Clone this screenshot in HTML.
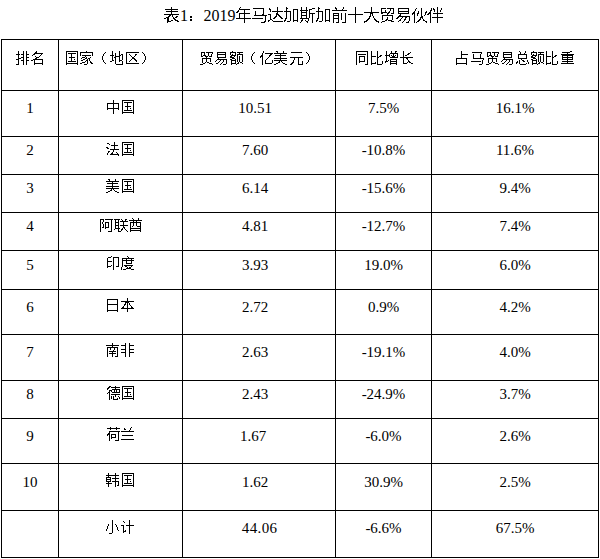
<!DOCTYPE html>
<html lang="zh-CN">
<head>
<meta charset="utf-8">
<title>表1：2019年马达加斯加前十大贸易伙伴</title>
<style>
html,body{margin:0;padding:0;background:#fff;}
body{width:600px;height:559px;position:relative;overflow:hidden;font-family:"Liberation Serif",serif;color:#000;}
.hl,.vl{position:absolute;background:#000;}
.hl{height:1px;left:1px;width:598px;}
.vl{width:1px;top:39px;height:519px;}
.c,.n{position:absolute;white-space:nowrap;font-size:15px;line-height:18px;height:18px;}
.n{text-align:center;}
.t{font-size:16px;line-height:20px;height:20px;}
.g{position:absolute;left:0;top:0;overflow:visible;shape-rendering:crispEdges;fill:#000;}
.s{color:transparent;}
</style>
</head>
<body>
<svg width="0" height="0" style="position:absolute"><defs>
<path id="g16_8868" d="M8 -14h1v1h-1zM8 -13h1v1h-1zM2 -12h13v1h-13zM8 -11h1v1h-1zM3 -10h12v1h-12zM8 -9h1v1h-1zM8 -8h1v1h-1zM1 -7h15v1h-15zM6 -6h2v1h-2zM9 -6h1v1h-1zM5 -5h2v1h-2zM9 -5h1v1h-1zM13 -5h2v1h-2zM3 -4h3v1h-3zM10 -4h1v1h-1zM12 -4h2v1h-2zM1 -3h2v1h-2zM4 -3h2v1h-2zM10 -3h2v1h-2zM4 -2h2v1h-2zM11 -2h2v1h-2zM4 -1h2v1h-2zM8 -1h2v1h-2zM12 -1h3v1h-3zM4 0h4v1h-4zM14 0h2v1h-2zM4 1h1v1h-1z"/>
<path id="g16_ff1a" d="M3 -5h2v1h-2zM3 -4h2v1h-2zM3 -2h2v1h-2zM3 -1h2v1h-2z"/>
<path id="g16_5e74" d="M5 -14h1v1h-1zM4 -13h1v1h-1zM4 -12h11v1h-11zM3 -11h1v1h-1zM9 -11h1v1h-1zM2 -10h2v1h-2zM9 -10h1v1h-1zM1 -9h2v1h-2zM9 -9h1v1h-1zM4 -8h11v1h-11zM4 -7h1v1h-1zM9 -7h1v1h-1zM4 -6h1v1h-1zM9 -6h1v1h-1zM4 -5h1v1h-1zM9 -5h1v1h-1zM4 -4h1v1h-1zM9 -4h1v1h-1zM1 -3h15v1h-15zM9 -2h1v1h-1zM9 -1h1v1h-1zM9 0h1v1h-1zM9 1h1v1h-1z"/>
<path id="g16_9a6c" d="M2 -13h11v1h-11zM12 -12h1v1h-1zM12 -11h1v1h-1zM4 -10h1v1h-1zM12 -10h1v1h-1zM4 -9h1v1h-1zM12 -9h1v1h-1zM4 -8h1v1h-1zM12 -8h1v1h-1zM4 -7h1v1h-1zM11 -7h2v1h-2zM3 -6h13v1h-13zM14 -5h1v1h-1zM14 -4h1v1h-1zM1 -3h11v1h-11zM14 -3h1v1h-1zM14 -2h1v1h-1zM14 -1h1v1h-1zM13 0h2v1h-2zM10 1h4v1h-4z"/>
<path id="g16_8fbe" d="M10 -14h1v1h-1zM2 -13h1v1h-1zM10 -13h1v1h-1zM2 -12h2v1h-2zM10 -12h1v1h-1zM3 -11h1v1h-1zM10 -11h1v1h-1zM3 -10h1v1h-1zM5 -10h11v1h-11zM10 -9h1v1h-1zM9 -8h2v1h-2zM1 -7h3v1h-3zM9 -7h3v1h-3zM3 -6h1v1h-1zM9 -6h1v1h-1zM11 -6h2v1h-2zM3 -5h1v1h-1zM8 -5h2v1h-2zM12 -5h2v1h-2zM3 -4h1v1h-1zM7 -4h2v1h-2zM13 -4h2v1h-2zM3 -3h1v1h-1zM6 -3h2v1h-2zM14 -3h2v1h-2zM3 -2h2v1h-2zM1 -1h2v1h-2zM5 -1h1v1h-1zM1 0h1v1h-1zM6 0h10v1h-10z"/>
<path id="g16_52a0" d="M3 -14h1v1h-1zM3 -13h2v1h-2zM3 -12h1v1h-1zM10 -12h5v1h-5zM3 -11h1v1h-1zM10 -11h1v1h-1zM14 -11h1v1h-1zM1 -10h7v1h-7zM10 -10h1v1h-1zM14 -10h1v1h-1zM3 -9h1v1h-1zM7 -9h1v1h-1zM10 -9h1v1h-1zM14 -9h1v1h-1zM3 -8h1v1h-1zM7 -8h1v1h-1zM10 -8h1v1h-1zM14 -8h1v1h-1zM3 -7h1v1h-1zM7 -7h1v1h-1zM10 -7h1v1h-1zM14 -7h1v1h-1zM3 -6h1v1h-1zM7 -6h1v1h-1zM10 -6h1v1h-1zM14 -6h1v1h-1zM3 -5h1v1h-1zM7 -5h1v1h-1zM10 -5h1v1h-1zM14 -5h1v1h-1zM3 -4h1v1h-1zM7 -4h1v1h-1zM10 -4h1v1h-1zM14 -4h1v1h-1zM2 -3h2v1h-2zM7 -3h1v1h-1zM10 -3h1v1h-1zM14 -3h1v1h-1zM2 -2h1v1h-1zM7 -2h1v1h-1zM10 -2h1v1h-1zM14 -2h1v1h-1zM1 -1h2v1h-2zM7 -1h1v1h-1zM10 -1h5v1h-5zM1 0h1v1h-1zM4 0h3v1h-3zM10 0h1v1h-1zM14 0h1v1h-1z"/>
<path id="g16_65af" d="M2 -14h1v1h-1zM7 -14h1v1h-1zM2 -13h1v1h-1zM7 -13h1v1h-1zM13 -13h3v1h-3zM2 -12h1v1h-1zM7 -12h1v1h-1zM10 -12h3v1h-3zM1 -11h8v1h-8zM10 -11h1v1h-1zM2 -10h1v1h-1zM7 -10h1v1h-1zM10 -10h1v1h-1zM2 -9h6v1h-6zM10 -9h1v1h-1zM2 -8h1v1h-1zM7 -8h1v1h-1zM10 -8h6v1h-6zM2 -7h1v1h-1zM7 -7h1v1h-1zM10 -7h1v1h-1zM13 -7h1v1h-1zM2 -6h6v1h-6zM10 -6h1v1h-1zM13 -6h1v1h-1zM2 -5h1v1h-1zM7 -5h1v1h-1zM10 -5h1v1h-1zM13 -5h1v1h-1zM2 -4h1v1h-1zM7 -4h1v1h-1zM10 -4h1v1h-1zM13 -4h1v1h-1zM1 -3h9v1h-9zM13 -3h1v1h-1zM3 -2h1v1h-1zM9 -2h1v1h-1zM13 -2h1v1h-1zM2 -1h2v1h-2zM6 -1h1v1h-1zM9 -1h1v1h-1zM13 -1h1v1h-1zM2 0h1v1h-1zM7 0h2v1h-2zM13 0h1v1h-1zM1 1h1v1h-1zM8 1h1v1h-1zM13 1h1v1h-1z"/>
<path id="g16_524d" d="M4 -14h1v1h-1zM12 -14h1v1h-1zM4 -13h2v1h-2zM12 -13h1v1h-1zM5 -12h1v1h-1zM11 -12h1v1h-1zM1 -11h15v1h-15zM2 -8h6v1h-6zM10 -8h1v1h-1zM14 -8h1v1h-1zM2 -7h1v1h-1zM7 -7h1v1h-1zM10 -7h1v1h-1zM14 -7h1v1h-1zM2 -6h6v1h-6zM10 -6h1v1h-1zM14 -6h1v1h-1zM2 -5h1v1h-1zM7 -5h1v1h-1zM10 -5h1v1h-1zM14 -5h1v1h-1zM2 -4h1v1h-1zM7 -4h1v1h-1zM10 -4h1v1h-1zM14 -4h1v1h-1zM2 -3h6v1h-6zM10 -3h1v1h-1zM14 -3h1v1h-1zM2 -2h1v1h-1zM7 -2h1v1h-1zM10 -2h1v1h-1zM14 -2h1v1h-1zM2 -1h1v1h-1zM7 -1h1v1h-1zM14 -1h1v1h-1zM2 0h1v1h-1zM7 0h1v1h-1zM14 0h1v1h-1zM2 1h1v1h-1zM5 1h3v1h-3zM11 1h4v1h-4z"/>
<path id="g16_5341" d="M8 -14h1v1h-1zM8 -13h1v1h-1zM8 -12h1v1h-1zM8 -11h1v1h-1zM8 -10h1v1h-1zM8 -9h1v1h-1zM8 -8h1v1h-1zM1 -7h15v1h-15zM8 -6h1v1h-1zM8 -5h1v1h-1zM8 -4h1v1h-1zM8 -3h1v1h-1zM8 -2h1v1h-1zM8 -1h1v1h-1zM8 0h1v1h-1zM8 1h1v1h-1z"/>
<path id="g16_5927" d="M8 -14h1v1h-1zM8 -13h1v1h-1zM8 -12h1v1h-1zM8 -11h1v1h-1zM8 -10h1v1h-1zM1 -9h15v1h-15zM7 -8h3v1h-3zM7 -7h1v1h-1zM9 -7h1v1h-1zM7 -6h1v1h-1zM9 -6h1v1h-1zM6 -5h2v1h-2zM10 -5h1v1h-1zM6 -4h1v1h-1zM10 -4h1v1h-1zM5 -3h2v1h-2zM11 -3h1v1h-1zM4 -2h2v1h-2zM11 -2h2v1h-2zM3 -1h2v1h-2zM12 -1h2v1h-2zM1 0h3v1h-3zM13 0h3v1h-3zM1 1h1v1h-1zM15 1h1v1h-1z"/>
<path id="g16_8d38" d="M2 -13h5v1h-5zM8 -13h7v1h-7zM2 -12h1v1h-1zM11 -12h1v1h-1zM14 -12h1v1h-1zM2 -11h1v1h-1zM6 -11h1v1h-1zM11 -11h1v1h-1zM14 -11h1v1h-1zM2 -10h1v1h-1zM6 -10h1v1h-1zM10 -10h1v1h-1zM14 -10h1v1h-1zM2 -9h6v1h-6zM9 -9h2v1h-2zM14 -9h1v1h-1zM2 -8h2v1h-2zM8 -8h2v1h-2zM12 -8h3v1h-3zM8 -7h1v1h-1zM3 -6h11v1h-11zM3 -5h1v1h-1zM13 -5h1v1h-1zM3 -4h1v1h-1zM8 -4h1v1h-1zM13 -4h1v1h-1zM3 -3h1v1h-1zM8 -3h1v1h-1zM13 -3h1v1h-1zM3 -2h1v1h-1zM7 -2h2v1h-2zM13 -2h1v1h-1zM6 -1h2v1h-2zM9 -1h4v1h-4zM3 0h3v1h-3zM12 0h3v1h-3zM2 1h1v1h-1z"/>
<path id="g16_6613" d="M3 -13h11v1h-11zM3 -12h1v1h-1zM13 -12h1v1h-1zM3 -11h1v1h-1zM13 -11h1v1h-1zM3 -10h11v1h-11zM3 -9h1v1h-1zM13 -9h1v1h-1zM3 -8h11v1h-11zM5 -7h1v1h-1zM4 -6h2v1h-2zM3 -5h12v1h-12zM2 -4h2v1h-2zM7 -4h1v1h-1zM10 -4h2v1h-2zM14 -4h1v1h-1zM1 -3h2v1h-2zM6 -3h1v1h-1zM10 -3h1v1h-1zM14 -3h1v1h-1zM5 -2h1v1h-1zM9 -2h2v1h-2zM14 -2h1v1h-1zM4 -1h2v1h-2zM9 -1h1v1h-1zM14 -1h1v1h-1zM3 0h1v1h-1zM8 0h1v1h-1zM13 0h1v1h-1zM7 1h1v1h-1zM11 1h3v1h-3z"/>
<path id="g16_4f19" d="M5 -13h1v1h-1zM10 -13h1v1h-1zM4 -12h1v1h-1zM10 -12h1v1h-1zM4 -11h1v1h-1zM10 -11h1v1h-1zM3 -10h1v1h-1zM7 -10h1v1h-1zM10 -10h1v1h-1zM15 -10h1v1h-1zM2 -9h2v1h-2zM7 -9h1v1h-1zM10 -9h1v1h-1zM14 -9h2v1h-2zM1 -8h3v1h-3zM6 -8h2v1h-2zM10 -8h1v1h-1zM14 -8h1v1h-1zM1 -7h1v1h-1zM3 -7h1v1h-1zM6 -7h1v1h-1zM10 -7h1v1h-1zM14 -7h1v1h-1zM3 -6h1v1h-1zM6 -6h1v1h-1zM10 -6h1v1h-1zM13 -6h1v1h-1zM3 -5h1v1h-1zM10 -5h2v1h-2zM3 -4h1v1h-1zM9 -4h3v1h-3zM3 -3h1v1h-1zM9 -3h1v1h-1zM11 -3h1v1h-1zM3 -2h1v1h-1zM8 -2h2v1h-2zM12 -2h1v1h-1zM3 -1h1v1h-1zM7 -1h2v1h-2zM12 -1h2v1h-2zM3 0h1v1h-1zM6 0h2v1h-2zM14 0h2v1h-2zM3 1h1v1h-1zM5 1h1v1h-1zM15 1h1v1h-1z"/>
<path id="g16_4f34" d="M10 -14h1v1h-1zM4 -13h1v1h-1zM6 -13h1v1h-1zM10 -13h1v1h-1zM14 -13h1v1h-1zM4 -12h1v1h-1zM6 -12h2v1h-2zM10 -12h1v1h-1zM14 -12h1v1h-1zM3 -11h2v1h-2zM7 -11h1v1h-1zM10 -11h1v1h-1zM13 -11h1v1h-1zM3 -10h1v1h-1zM7 -10h1v1h-1zM10 -10h1v1h-1zM13 -10h1v1h-1zM2 -9h2v1h-2zM10 -9h1v1h-1zM1 -8h3v1h-3zM6 -8h10v1h-10zM0 -7h2v1h-2zM3 -7h1v1h-1zM10 -7h1v1h-1zM3 -6h1v1h-1zM10 -6h1v1h-1zM3 -5h1v1h-1zM10 -5h1v1h-1zM3 -4h1v1h-1zM5 -4h11v1h-11zM3 -3h1v1h-1zM10 -3h1v1h-1zM3 -2h1v1h-1zM10 -2h1v1h-1zM3 -1h1v1h-1zM10 -1h1v1h-1zM3 0h1v1h-1zM10 0h1v1h-1zM3 1h1v1h-1zM10 1h1v1h-1z"/>
<path id="g15_6392" d="M3 -12h1v1h-1zM8 -12h1v1h-1zM11 -12h1v1h-1zM3 -11h1v1h-1zM8 -11h1v1h-1zM11 -11h1v1h-1zM3 -10h1v1h-1zM8 -10h1v1h-1zM11 -10h1v1h-1zM1 -9h4v1h-4zM6 -9h3v1h-3zM11 -9h3v1h-3zM3 -8h1v1h-1zM8 -8h1v1h-1zM11 -8h1v1h-1zM3 -7h1v1h-1zM8 -7h1v1h-1zM11 -7h1v1h-1zM3 -6h1v1h-1zM6 -6h3v1h-3zM11 -6h3v1h-3zM3 -5h3v1h-3zM8 -5h1v1h-1zM11 -5h1v1h-1zM1 -4h3v1h-3zM8 -4h1v1h-1zM11 -4h1v1h-1zM3 -3h1v1h-1zM6 -3h3v1h-3zM11 -3h3v1h-3zM3 -2h1v1h-1zM8 -2h1v1h-1zM11 -2h1v1h-1zM3 -1h1v1h-1zM8 -1h1v1h-1zM11 -1h1v1h-1zM3 0h1v1h-1zM8 0h1v1h-1zM11 0h1v1h-1zM1 1h3v1h-3zM8 1h1v1h-1zM11 1h1v1h-1z"/>
<path id="g15_540d" d="M6 -12h1v1h-1zM5 -11h2v1h-2zM4 -10h9v1h-9zM3 -9h2v1h-2zM11 -9h1v1h-1zM2 -8h1v1h-1zM10 -8h1v1h-1zM5 -7h1v1h-1zM9 -7h1v1h-1zM6 -6h3v1h-3zM5 -5h2v1h-2zM3 -4h10v1h-10zM1 -3h2v1h-2zM4 -3h1v1h-1zM12 -3h1v1h-1zM4 -2h1v1h-1zM12 -2h1v1h-1zM4 -1h1v1h-1zM12 -1h1v1h-1zM4 0h9v1h-9zM4 1h1v1h-1zM12 1h1v1h-1z"/>
<path id="g15_56fd" d="M1 -12h12v1h-12zM1 -11h1v1h-1zM12 -11h1v1h-1zM1 -10h1v1h-1zM3 -10h8v1h-8zM12 -10h1v1h-1zM1 -9h1v1h-1zM6 -9h1v1h-1zM12 -9h1v1h-1zM1 -8h1v1h-1zM6 -8h1v1h-1zM12 -8h1v1h-1zM1 -7h1v1h-1zM6 -7h1v1h-1zM12 -7h1v1h-1zM1 -6h1v1h-1zM4 -6h6v1h-6zM12 -6h1v1h-1zM1 -5h1v1h-1zM6 -5h1v1h-1zM12 -5h1v1h-1zM1 -4h1v1h-1zM6 -4h1v1h-1zM9 -4h1v1h-1zM12 -4h1v1h-1zM1 -3h1v1h-1zM6 -3h1v1h-1zM12 -3h1v1h-1zM1 -2h1v1h-1zM3 -2h8v1h-8zM12 -2h1v1h-1zM1 -1h1v1h-1zM12 -1h1v1h-1zM1 0h12v1h-12zM1 1h1v1h-1zM12 1h1v1h-1z"/>
<path id="g15_5bb6" d="M6 -12h1v1h-1zM0 -11h13v1h-13zM0 -10h1v1h-1zM12 -10h1v1h-1zM0 -9h1v1h-1zM12 -9h1v1h-1zM0 -8h1v1h-1zM2 -8h9v1h-9zM12 -8h1v1h-1zM5 -7h1v1h-1zM2 -6h3v1h-3zM6 -6h1v1h-1zM10 -6h1v1h-1zM1 -5h1v1h-1zM5 -5h2v1h-2zM8 -5h2v1h-2zM3 -4h2v1h-2zM7 -4h1v1h-1zM9 -4h1v1h-1zM1 -3h2v1h-2zM6 -3h2v1h-2zM9 -3h1v1h-1zM5 -2h1v1h-1zM7 -2h1v1h-1zM10 -2h1v1h-1zM2 -1h3v1h-3zM7 -1h1v1h-1zM10 -1h2v1h-2zM0 0h2v1h-2zM7 0h1v1h-1zM11 0h2v1h-2zM4 1h3v1h-3z"/>
<path id="g15_ff08" d="M10 -11h1v1h-1zM9 -10h1v1h-1zM8 -9h1v1h-1zM8 -8h1v1h-1zM7 -7h1v1h-1zM7 -6h1v1h-1zM7 -5h1v1h-1zM7 -4h1v1h-1zM8 -3h1v1h-1zM8 -2h1v1h-1zM9 -1h1v1h-1zM10 0h1v1h-1z"/>
<path id="g15_5730" d="M2 -12h1v1h-1zM9 -12h1v1h-1zM2 -11h1v1h-1zM9 -11h1v1h-1zM2 -10h1v1h-1zM5 -10h1v1h-1zM9 -10h1v1h-1zM2 -9h1v1h-1zM5 -9h1v1h-1zM9 -9h1v1h-1zM11 -9h2v1h-2zM0 -8h4v1h-4zM5 -8h1v1h-1zM9 -8h2v1h-2zM12 -8h1v1h-1zM2 -7h1v1h-1zM5 -7h5v1h-5zM12 -7h1v1h-1zM2 -6h1v1h-1zM4 -6h2v1h-2zM9 -6h1v1h-1zM12 -6h1v1h-1zM2 -5h1v1h-1zM5 -5h1v1h-1zM9 -5h1v1h-1zM12 -5h1v1h-1zM2 -4h1v1h-1zM5 -4h1v1h-1zM9 -4h1v1h-1zM12 -4h1v1h-1zM2 -3h2v1h-2zM5 -3h1v1h-1zM9 -3h3v1h-3zM0 -2h2v1h-2zM5 -2h1v1h-1zM9 -2h1v1h-1zM12 -2h1v1h-1zM5 -1h1v1h-1zM12 -1h1v1h-1zM5 0h1v1h-1zM12 0h1v1h-1zM6 1h7v1h-7z"/>
<path id="g15_533a" d="M1 -11h13v1h-13zM1 -10h1v1h-1zM1 -9h1v1h-1zM4 -9h1v1h-1zM10 -9h2v1h-2zM1 -8h1v1h-1zM5 -8h1v1h-1zM10 -8h1v1h-1zM1 -7h1v1h-1zM6 -7h1v1h-1zM9 -7h1v1h-1zM1 -6h1v1h-1zM7 -6h2v1h-2zM1 -5h1v1h-1zM7 -5h3v1h-3zM1 -4h1v1h-1zM6 -4h1v1h-1zM9 -4h2v1h-2zM1 -3h1v1h-1zM5 -3h1v1h-1zM10 -3h2v1h-2zM1 -2h1v1h-1zM4 -2h1v1h-1zM11 -2h1v1h-1zM1 -1h1v1h-1zM1 0h13v1h-13z"/>
<path id="g15_ff09" d="M2 -11h1v1h-1zM3 -10h1v1h-1zM4 -9h1v1h-1zM4 -8h1v1h-1zM5 -7h1v1h-1zM5 -6h1v1h-1zM5 -5h1v1h-1zM5 -4h1v1h-1zM4 -3h1v1h-1zM4 -2h1v1h-1zM3 -1h1v1h-1zM2 0h1v1h-1z"/>
<path id="g15_8d38" d="M2 -11h4v1h-4zM7 -11h7v1h-7zM2 -10h1v1h-1zM5 -10h1v1h-1zM9 -10h1v1h-1zM13 -10h1v1h-1zM2 -9h1v1h-1zM5 -9h1v1h-1zM9 -9h1v1h-1zM12 -9h1v1h-1zM2 -8h1v1h-1zM4 -8h3v1h-3zM9 -8h1v1h-1zM12 -8h1v1h-1zM2 -7h2v1h-2zM6 -7h3v1h-3zM10 -7h3v1h-3zM7 -6h1v1h-1zM3 -5h9v1h-9zM3 -4h1v1h-1zM7 -4h1v1h-1zM11 -4h1v1h-1zM3 -3h1v1h-1zM7 -3h1v1h-1zM11 -3h1v1h-1zM3 -2h1v1h-1zM7 -2h1v1h-1zM11 -2h1v1h-1zM3 -1h1v1h-1zM6 -1h1v1h-1zM8 -1h2v1h-2zM4 0h2v1h-2zM10 0h3v1h-3zM1 1h3v1h-3zM13 1h1v1h-1z"/>
<path id="g15_6613" d="M3 -11h9v1h-9zM3 -10h1v1h-1zM11 -10h1v1h-1zM3 -9h9v1h-9zM3 -8h1v1h-1zM11 -8h1v1h-1zM3 -7h1v1h-1zM11 -7h1v1h-1zM3 -6h9v1h-9zM4 -5h1v1h-1zM3 -4h10v1h-10zM2 -3h1v1h-1zM6 -3h1v1h-1zM9 -3h1v1h-1zM12 -3h1v1h-1zM1 -2h1v1h-1zM5 -2h1v1h-1zM9 -2h1v1h-1zM12 -2h1v1h-1zM4 -1h1v1h-1zM8 -1h1v1h-1zM12 -1h1v1h-1zM2 0h2v1h-2zM7 0h1v1h-1zM12 0h1v1h-1zM6 1h1v1h-1zM9 1h3v1h-3z"/>
<path id="g15_989d" d="M3 -12h1v1h-1zM1 -11h6v1h-6zM8 -11h6v1h-6zM1 -10h1v1h-1zM6 -10h1v1h-1zM10 -10h1v1h-1zM1 -9h1v1h-1zM3 -9h1v1h-1zM6 -9h1v1h-1zM8 -9h6v1h-6zM2 -8h5v1h-5zM8 -8h1v1h-1zM13 -8h1v1h-1zM1 -7h2v1h-2zM5 -7h1v1h-1zM8 -7h1v1h-1zM10 -7h1v1h-1zM13 -7h1v1h-1zM1 -6h4v1h-4zM8 -6h1v1h-1zM10 -6h1v1h-1zM13 -6h1v1h-1zM3 -5h3v1h-3zM8 -5h1v1h-1zM10 -5h1v1h-1zM13 -5h1v1h-1zM1 -4h2v1h-2zM6 -4h1v1h-1zM8 -4h1v1h-1zM10 -4h1v1h-1zM13 -4h1v1h-1zM2 -3h5v1h-5zM8 -3h1v1h-1zM10 -3h1v1h-1zM13 -3h1v1h-1zM2 -2h1v1h-1zM6 -2h1v1h-1zM8 -2h1v1h-1zM10 -2h1v1h-1zM13 -2h1v1h-1zM2 -1h1v1h-1zM6 -1h1v1h-1zM9 -1h1v1h-1zM11 -1h2v1h-2zM2 0h5v1h-5zM8 0h2v1h-2zM13 0h1v1h-1zM2 1h1v1h-1zM7 1h1v1h-1z"/>
<path id="g15_4ebf" d="M4 -12h1v1h-1zM4 -11h1v1h-1zM3 -10h1v1h-1zM6 -10h8v1h-8zM3 -9h1v1h-1zM11 -9h2v1h-2zM2 -8h2v1h-2zM10 -8h2v1h-2zM1 -7h3v1h-3zM10 -7h1v1h-1zM1 -6h1v1h-1zM3 -6h1v1h-1zM9 -6h1v1h-1zM3 -5h1v1h-1zM8 -5h1v1h-1zM3 -4h1v1h-1zM7 -4h1v1h-1zM3 -3h1v1h-1zM6 -3h1v1h-1zM13 -3h1v1h-1zM3 -2h1v1h-1zM6 -2h1v1h-1zM13 -2h1v1h-1zM3 -1h1v1h-1zM6 -1h1v1h-1zM13 -1h1v1h-1zM3 0h1v1h-1zM6 0h7v1h-7zM3 1h1v1h-1z"/>
<path id="g15_7f8e" d="M2 -12h2v1h-2zM9 -12h1v1h-1zM3 -11h1v1h-1zM9 -11h1v1h-1zM0 -10h13v1h-13zM6 -9h1v1h-1zM1 -8h11v1h-11zM6 -7h1v1h-1zM6 -6h1v1h-1zM0 -5h13v1h-13zM6 -4h1v1h-1zM0 -3h13v1h-13zM5 -2h1v1h-1zM7 -2h1v1h-1zM4 -1h2v1h-2zM8 -1h1v1h-1zM2 0h2v1h-2zM9 0h2v1h-2zM0 1h2v1h-2zM11 1h2v1h-2z"/>
<path id="g15_5143" d="M2 -11h11v1h-11zM1 -6h13v1h-13zM5 -5h1v1h-1zM9 -5h1v1h-1zM5 -4h1v1h-1zM9 -4h1v1h-1zM4 -3h1v1h-1zM9 -3h1v1h-1zM4 -2h1v1h-1zM9 -2h1v1h-1zM13 -2h1v1h-1zM3 -1h2v1h-2zM9 -1h1v1h-1zM13 -1h1v1h-1zM2 0h2v1h-2zM9 0h1v1h-1zM13 0h1v1h-1zM1 1h2v1h-2zM9 1h5v1h-5z"/>
<path id="g15_540c" d="M1 -12h12v1h-12zM1 -11h1v1h-1zM12 -11h1v1h-1zM1 -10h1v1h-1zM12 -10h1v1h-1zM1 -9h1v1h-1zM3 -9h8v1h-8zM12 -9h1v1h-1zM1 -8h1v1h-1zM12 -8h1v1h-1zM1 -7h1v1h-1zM4 -7h6v1h-6zM12 -7h1v1h-1zM1 -6h1v1h-1zM4 -6h1v1h-1zM9 -6h1v1h-1zM12 -6h1v1h-1zM1 -5h1v1h-1zM4 -5h1v1h-1zM9 -5h1v1h-1zM12 -5h1v1h-1zM1 -4h1v1h-1zM4 -4h1v1h-1zM9 -4h1v1h-1zM12 -4h1v1h-1zM1 -3h1v1h-1zM4 -3h1v1h-1zM9 -3h1v1h-1zM12 -3h1v1h-1zM1 -2h1v1h-1zM4 -2h6v1h-6zM12 -2h1v1h-1zM1 -1h1v1h-1zM4 -1h1v1h-1zM12 -1h1v1h-1zM1 0h1v1h-1zM12 0h1v1h-1zM1 1h1v1h-1zM10 1h3v1h-3z"/>
<path id="g15_6bd4" d="M1 -12h1v1h-1zM7 -12h1v1h-1zM1 -11h1v1h-1zM7 -11h1v1h-1zM1 -10h1v1h-1zM7 -10h1v1h-1zM1 -9h1v1h-1zM7 -9h1v1h-1zM1 -8h1v1h-1zM7 -8h1v1h-1zM10 -8h2v1h-2zM1 -7h5v1h-5zM7 -7h1v1h-1zM9 -7h2v1h-2zM1 -6h1v1h-1zM7 -6h2v1h-2zM1 -5h1v1h-1zM7 -5h1v1h-1zM1 -4h1v1h-1zM7 -4h1v1h-1zM1 -3h1v1h-1zM7 -3h1v1h-1zM1 -2h1v1h-1zM7 -2h1v1h-1zM12 -2h1v1h-1zM1 -1h1v1h-1zM5 -1h1v1h-1zM7 -1h1v1h-1zM12 -1h1v1h-1zM1 0h5v1h-5zM7 0h1v1h-1zM12 0h1v1h-1zM1 1h1v1h-1zM7 1h5v1h-5z"/>
<path id="g15_589e" d="M1 -12h1v1h-1zM6 -12h1v1h-1zM10 -12h2v1h-2zM1 -11h1v1h-1zM6 -11h1v1h-1zM10 -11h1v1h-1zM1 -10h1v1h-1zM5 -10h8v1h-8zM1 -9h1v1h-1zM4 -9h1v1h-1zM8 -9h1v1h-1zM12 -9h1v1h-1zM0 -8h5v1h-5zM6 -8h1v1h-1zM8 -8h1v1h-1zM10 -8h1v1h-1zM12 -8h1v1h-1zM1 -7h1v1h-1zM4 -7h1v1h-1zM7 -7h3v1h-3zM12 -7h1v1h-1zM1 -6h1v1h-1zM5 -6h8v1h-8zM1 -5h1v1h-1zM1 -4h1v1h-1zM5 -4h7v1h-7zM1 -3h1v1h-1zM3 -3h1v1h-1zM5 -3h1v1h-1zM11 -3h1v1h-1zM0 -2h3v1h-3zM5 -2h7v1h-7zM0 -1h1v1h-1zM5 -1h1v1h-1zM11 -1h1v1h-1zM5 0h7v1h-7zM5 1h1v1h-1zM11 1h1v1h-1z"/>
<path id="g15_957f" d="M3 -12h1v1h-1zM3 -11h1v1h-1zM10 -11h1v1h-1zM3 -10h1v1h-1zM8 -10h2v1h-2zM3 -9h1v1h-1zM7 -9h2v1h-2zM3 -8h1v1h-1zM5 -8h2v1h-2zM3 -7h1v1h-1zM0 -6h13v1h-13zM3 -5h1v1h-1zM6 -5h2v1h-2zM3 -4h1v1h-1zM7 -4h1v1h-1zM3 -3h1v1h-1zM8 -3h1v1h-1zM3 -2h1v1h-1zM8 -2h2v1h-2zM3 -1h1v1h-1zM7 -1h1v1h-1zM9 -1h2v1h-2zM3 0h4v1h-4zM11 0h2v1h-2z"/>
<path id="g15_5360" d="M6 -12h1v1h-1zM6 -11h1v1h-1zM6 -10h1v1h-1zM6 -9h7v1h-7zM6 -8h1v1h-1zM6 -7h1v1h-1zM6 -6h1v1h-1zM1 -5h11v1h-11zM1 -4h1v1h-1zM11 -4h1v1h-1zM1 -3h1v1h-1zM11 -3h1v1h-1zM1 -2h1v1h-1zM11 -2h1v1h-1zM1 -1h1v1h-1zM11 -1h1v1h-1zM1 0h11v1h-11zM1 1h1v1h-1zM11 1h1v1h-1z"/>
<path id="g15_9a6c" d="M2 -11h10v1h-10zM11 -10h1v1h-1zM3 -9h1v1h-1zM10 -9h1v1h-1zM3 -8h1v1h-1zM10 -8h1v1h-1zM3 -7h1v1h-1zM10 -7h1v1h-1zM3 -6h1v1h-1zM10 -6h1v1h-1zM3 -5h11v1h-11zM13 -4h1v1h-1zM12 -3h1v1h-1zM1 -2h10v1h-10zM12 -2h1v1h-1zM12 -1h1v1h-1zM12 0h1v1h-1zM9 1h3v1h-3z"/>
<path id="g15_603b" d="M4 -12h1v1h-1zM10 -12h1v1h-1zM5 -11h1v1h-1zM10 -11h1v1h-1zM5 -10h1v1h-1zM9 -10h1v1h-1zM3 -9h9v1h-9zM3 -8h1v1h-1zM11 -8h1v1h-1zM3 -7h1v1h-1zM11 -7h1v1h-1zM3 -6h1v1h-1zM11 -6h1v1h-1zM3 -5h9v1h-9zM6 -4h1v1h-1zM4 -3h1v1h-1zM7 -3h2v1h-2zM12 -3h1v1h-1zM2 -2h1v1h-1zM4 -2h1v1h-1zM8 -2h2v1h-2zM12 -2h1v1h-1zM1 -1h2v1h-2zM4 -1h1v1h-1zM13 -1h1v1h-1zM1 0h1v1h-1zM4 0h1v1h-1zM11 0h1v1h-1zM13 0h1v1h-1zM5 1h6v1h-6z"/>
<path id="g15_91cd" d="M10 -12h2v1h-2zM2 -11h8v1h-8zM7 -10h1v1h-1zM1 -9h13v1h-13zM2 -8h11v1h-11zM2 -7h1v1h-1zM7 -7h1v1h-1zM12 -7h1v1h-1zM2 -6h11v1h-11zM2 -5h1v1h-1zM7 -5h1v1h-1zM12 -5h1v1h-1zM2 -4h11v1h-11zM7 -3h1v1h-1zM2 -2h11v1h-11zM7 -1h1v1h-1zM1 0h13v1h-13z"/>
<path id="g15_4e2d" d="M7 -12h1v1h-1zM7 -11h1v1h-1zM7 -10h1v1h-1zM1 -9h12v1h-12zM1 -8h1v1h-1zM7 -8h1v1h-1zM12 -8h1v1h-1zM1 -7h1v1h-1zM7 -7h1v1h-1zM12 -7h1v1h-1zM1 -6h1v1h-1zM7 -6h1v1h-1zM12 -6h1v1h-1zM1 -5h1v1h-1zM7 -5h1v1h-1zM12 -5h1v1h-1zM1 -4h12v1h-12zM1 -3h1v1h-1zM7 -3h1v1h-1zM12 -3h1v1h-1zM7 -2h1v1h-1zM7 -1h1v1h-1zM7 0h1v1h-1zM7 1h1v1h-1z"/>
<path id="g15_6cd5" d="M8 -12h1v1h-1zM1 -11h2v1h-2zM8 -11h1v1h-1zM3 -10h1v1h-1zM8 -10h1v1h-1zM5 -9h7v1h-7zM8 -8h1v1h-1zM0 -7h2v1h-2zM8 -7h1v1h-1zM1 -6h2v1h-2zM8 -6h1v1h-1zM4 -5h9v1h-9zM7 -4h1v1h-1zM2 -3h2v1h-2zM7 -3h1v1h-1zM2 -2h1v1h-1zM6 -2h1v1h-1zM10 -2h1v1h-1zM1 -1h1v1h-1zM5 -1h2v1h-2zM11 -1h1v1h-1zM1 0h1v1h-1zM4 0h9v1h-9zM12 1h1v1h-1z"/>
<path id="g15_963f" d="M1 -11h4v1h-4zM6 -11h8v1h-8zM1 -10h1v1h-1zM4 -10h1v1h-1zM12 -10h1v1h-1zM1 -9h1v1h-1zM4 -9h1v1h-1zM12 -9h1v1h-1zM1 -8h1v1h-1zM3 -8h1v1h-1zM6 -8h4v1h-4zM12 -8h1v1h-1zM1 -7h1v1h-1zM3 -7h1v1h-1zM6 -7h1v1h-1zM9 -7h1v1h-1zM12 -7h1v1h-1zM1 -6h1v1h-1zM4 -6h1v1h-1zM6 -6h1v1h-1zM9 -6h1v1h-1zM12 -6h1v1h-1zM1 -5h1v1h-1zM4 -5h1v1h-1zM6 -5h1v1h-1zM9 -5h1v1h-1zM12 -5h1v1h-1zM1 -4h1v1h-1zM4 -4h1v1h-1zM6 -4h1v1h-1zM9 -4h1v1h-1zM12 -4h1v1h-1zM1 -3h1v1h-1zM3 -3h2v1h-2zM6 -3h4v1h-4zM12 -3h1v1h-1zM1 -2h1v1h-1zM6 -2h1v1h-1zM12 -2h1v1h-1zM1 -1h1v1h-1zM12 -1h1v1h-1zM1 0h1v1h-1zM12 0h1v1h-1zM1 1h1v1h-1zM9 1h4v1h-4z"/>
<path id="g15_8054" d="M0 -11h6v1h-6zM7 -11h1v1h-1zM11 -11h2v1h-2zM1 -10h1v1h-1zM4 -10h1v1h-1zM8 -10h1v1h-1zM11 -10h1v1h-1zM1 -9h1v1h-1zM4 -9h1v1h-1zM6 -9h8v1h-8zM1 -8h4v1h-4zM9 -8h1v1h-1zM1 -7h1v1h-1zM4 -7h1v1h-1zM9 -7h1v1h-1zM1 -6h1v1h-1zM4 -6h1v1h-1zM9 -6h1v1h-1zM1 -5h4v1h-4zM6 -5h8v1h-8zM1 -4h1v1h-1zM4 -4h1v1h-1zM9 -4h1v1h-1zM1 -3h1v1h-1zM4 -3h1v1h-1zM9 -3h2v1h-2zM1 -2h5v1h-5zM8 -2h1v1h-1zM10 -2h1v1h-1zM0 -1h1v1h-1zM4 -1h1v1h-1zM7 -1h2v1h-2zM11 -1h1v1h-1zM4 0h1v1h-1zM7 0h1v1h-1zM12 0h1v1h-1zM4 1h3v1h-3zM13 1h1v1h-1z"/>
<path id="g15_914b" d="M3 -12h1v1h-1zM9 -12h1v1h-1zM4 -11h1v1h-1zM9 -11h1v1h-1zM0 -10h13v1h-13zM4 -9h1v1h-1zM7 -9h1v1h-1zM1 -8h11v1h-11zM1 -7h1v1h-1zM4 -7h1v1h-1zM7 -7h1v1h-1zM11 -7h1v1h-1zM1 -6h1v1h-1zM4 -6h1v1h-1zM7 -6h1v1h-1zM11 -6h1v1h-1zM1 -5h1v1h-1zM4 -5h1v1h-1zM7 -5h1v1h-1zM11 -5h1v1h-1zM1 -4h1v1h-1zM3 -4h1v1h-1zM8 -4h4v1h-4zM1 -3h1v1h-1zM11 -3h1v1h-1zM1 -2h11v1h-11zM1 -1h1v1h-1zM11 -1h1v1h-1zM1 0h11v1h-11zM1 1h1v1h-1zM11 1h1v1h-1z"/>
<path id="g15_5370" d="M5 -12h1v1h-1zM2 -11h3v1h-3zM7 -11h6v1h-6zM1 -10h1v1h-1zM7 -10h1v1h-1zM12 -10h1v1h-1zM1 -9h1v1h-1zM7 -9h1v1h-1zM12 -9h1v1h-1zM1 -8h1v1h-1zM7 -8h1v1h-1zM12 -8h1v1h-1zM1 -7h5v1h-5zM7 -7h1v1h-1zM12 -7h1v1h-1zM1 -6h1v1h-1zM7 -6h1v1h-1zM12 -6h1v1h-1zM1 -5h1v1h-1zM7 -5h1v1h-1zM12 -5h1v1h-1zM1 -4h1v1h-1zM7 -4h1v1h-1zM12 -4h1v1h-1zM1 -3h1v1h-1zM5 -3h1v1h-1zM7 -3h1v1h-1zM12 -3h1v1h-1zM1 -2h4v1h-4zM7 -2h1v1h-1zM10 -2h3v1h-3zM1 -1h1v1h-1zM7 -1h1v1h-1zM7 0h1v1h-1zM7 1h1v1h-1z"/>
<path id="g15_5ea6" d="M6 -12h1v1h-1zM7 -11h1v1h-1zM1 -10h12v1h-12zM1 -9h1v1h-1zM5 -9h1v1h-1zM10 -9h1v1h-1zM1 -8h12v1h-12zM1 -7h1v1h-1zM5 -7h1v1h-1zM10 -7h1v1h-1zM1 -6h1v1h-1zM5 -6h1v1h-1zM10 -6h1v1h-1zM1 -5h1v1h-1zM5 -5h6v1h-6zM1 -4h1v1h-1zM1 -3h1v1h-1zM3 -3h9v1h-9zM1 -2h1v1h-1zM4 -2h2v1h-2zM10 -2h1v1h-1zM0 -1h1v1h-1zM6 -1h1v1h-1zM8 -1h2v1h-2zM0 0h1v1h-1zM5 0h5v1h-5zM0 1h1v1h-1zM2 1h3v1h-3zM10 1h3v1h-3z"/>
<path id="g15_65e5" d="M1 -11h11v1h-11zM1 -10h1v1h-1zM11 -10h1v1h-1zM1 -9h1v1h-1zM11 -9h1v1h-1zM1 -8h1v1h-1zM11 -8h1v1h-1zM1 -7h1v1h-1zM11 -7h1v1h-1zM1 -6h11v1h-11zM1 -5h1v1h-1zM11 -5h1v1h-1zM1 -4h1v1h-1zM11 -4h1v1h-1zM1 -3h1v1h-1zM11 -3h1v1h-1zM1 -2h1v1h-1zM11 -2h1v1h-1zM1 -1h1v1h-1zM11 -1h1v1h-1zM1 0h11v1h-11zM1 1h1v1h-1zM11 1h1v1h-1z"/>
<path id="g15_672c" d="M6 -12h1v1h-1zM6 -11h1v1h-1zM6 -10h1v1h-1zM0 -9h13v1h-13zM4 -8h4v1h-4zM4 -7h1v1h-1zM6 -7h1v1h-1zM8 -7h1v1h-1zM3 -6h2v1h-2zM6 -6h1v1h-1zM8 -6h1v1h-1zM3 -5h1v1h-1zM6 -5h1v1h-1zM9 -5h1v1h-1zM2 -4h1v1h-1zM6 -4h1v1h-1zM10 -4h1v1h-1zM1 -3h2v1h-2zM6 -3h1v1h-1zM10 -3h2v1h-2zM0 -2h13v1h-13zM6 -1h1v1h-1zM6 0h1v1h-1zM6 1h1v1h-1z"/>
<path id="g15_5357" d="M6 -12h1v1h-1zM6 -11h1v1h-1zM0 -10h13v1h-13zM6 -9h1v1h-1zM1 -8h11v1h-11zM1 -7h1v1h-1zM4 -7h1v1h-1zM8 -7h1v1h-1zM11 -7h1v1h-1zM1 -6h1v1h-1zM4 -6h1v1h-1zM8 -6h1v1h-1zM11 -6h1v1h-1zM1 -5h1v1h-1zM7 -5h1v1h-1zM11 -5h1v1h-1zM1 -4h1v1h-1zM3 -4h7v1h-7zM11 -4h1v1h-1zM1 -3h1v1h-1zM6 -3h1v1h-1zM11 -3h1v1h-1zM1 -2h1v1h-1zM3 -2h7v1h-7zM11 -2h1v1h-1zM1 -1h1v1h-1zM6 -1h1v1h-1zM11 -1h1v1h-1zM1 0h1v1h-1zM6 0h1v1h-1zM11 0h1v1h-1zM1 1h1v1h-1zM6 1h1v1h-1zM9 1h3v1h-3z"/>
<path id="g15_975e" d="M4 -12h1v1h-1zM8 -12h1v1h-1zM4 -11h1v1h-1zM8 -11h1v1h-1zM0 -10h5v1h-5zM8 -10h5v1h-5zM4 -9h1v1h-1zM8 -9h1v1h-1zM4 -8h1v1h-1zM8 -8h1v1h-1zM4 -7h1v1h-1zM8 -7h1v1h-1zM0 -6h5v1h-5zM8 -6h5v1h-5zM4 -5h1v1h-1zM8 -5h1v1h-1zM4 -4h1v1h-1zM8 -4h1v1h-1zM0 -3h5v1h-5zM8 -3h5v1h-5zM4 -2h1v1h-1zM8 -2h1v1h-1zM4 -1h1v1h-1zM8 -1h1v1h-1zM4 0h1v1h-1zM8 0h1v1h-1zM4 1h1v1h-1zM8 1h1v1h-1z"/>
<path id="g15_5fb7" d="M3 -12h2v1h-2zM9 -12h1v1h-1zM2 -11h2v1h-2zM5 -11h9v1h-9zM1 -10h2v1h-2zM9 -10h1v1h-1zM1 -9h1v1h-1zM6 -9h8v1h-8zM3 -8h3v1h-3zM8 -8h1v1h-1zM10 -8h1v1h-1zM13 -8h1v1h-1zM3 -7h1v1h-1zM5 -7h1v1h-1zM8 -7h1v1h-1zM10 -7h1v1h-1zM13 -7h1v1h-1zM2 -6h2v1h-2zM6 -6h8v1h-8zM1 -5h1v1h-1zM3 -5h1v1h-1zM3 -4h1v1h-1zM5 -4h9v1h-9zM3 -3h1v1h-1zM9 -3h1v1h-1zM3 -2h1v1h-1zM5 -2h1v1h-1zM7 -2h1v1h-1zM9 -2h1v1h-1zM12 -2h1v1h-1zM3 -1h1v1h-1zM5 -1h1v1h-1zM7 -1h1v1h-1zM13 -1h1v1h-1zM3 0h1v1h-1zM5 0h1v1h-1zM7 0h1v1h-1zM11 0h1v1h-1zM13 0h1v1h-1zM3 1h1v1h-1zM7 1h5v1h-5z"/>
<path id="g15_8377" d="M4 -12h1v1h-1zM10 -12h1v1h-1zM1 -11h13v1h-13zM4 -10h1v1h-1zM10 -10h1v1h-1zM3 -8h11v1h-11zM3 -7h1v1h-1zM12 -7h1v1h-1zM2 -6h2v1h-2zM12 -6h1v1h-1zM1 -5h3v1h-3zM5 -5h5v1h-5zM12 -5h1v1h-1zM1 -4h1v1h-1zM3 -4h1v1h-1zM5 -4h1v1h-1zM9 -4h1v1h-1zM12 -4h1v1h-1zM3 -3h1v1h-1zM5 -3h1v1h-1zM9 -3h1v1h-1zM12 -3h1v1h-1zM3 -2h1v1h-1zM5 -2h5v1h-5zM12 -2h1v1h-1zM3 -1h1v1h-1zM5 -1h1v1h-1zM12 -1h1v1h-1zM3 0h1v1h-1zM12 0h1v1h-1zM3 1h1v1h-1zM9 1h4v1h-4z"/>
<path id="g15_5170" d="M10 -12h1v1h-1zM3 -11h1v1h-1zM9 -11h1v1h-1zM3 -10h2v1h-2zM9 -10h1v1h-1zM8 -9h1v1h-1zM0 -8h13v1h-13zM1 -4h11v1h-11zM0 0h13v1h-13z"/>
<path id="g15_97e9" d="M2 -12h1v1h-1zM9 -12h1v1h-1zM2 -11h1v1h-1zM9 -11h1v1h-1zM0 -10h13v1h-13zM2 -9h1v1h-1zM9 -9h1v1h-1zM0 -8h5v1h-5zM9 -8h1v1h-1zM0 -7h1v1h-1zM4 -7h1v1h-1zM6 -7h7v1h-7zM0 -6h5v1h-5zM9 -6h1v1h-1zM0 -5h1v1h-1zM4 -5h1v1h-1zM9 -5h1v1h-1zM0 -4h5v1h-5zM6 -4h7v1h-7zM2 -3h1v1h-1zM9 -3h1v1h-1zM12 -3h1v1h-1zM0 -2h6v1h-6zM9 -2h1v1h-1zM12 -2h1v1h-1zM2 -1h1v1h-1zM9 -1h1v1h-1zM12 -1h1v1h-1zM2 0h1v1h-1zM9 0h1v1h-1zM11 0h2v1h-2zM2 1h1v1h-1zM9 1h1v1h-1z"/>
<path id="g15_5c0f" d="M6 -12h1v1h-1zM6 -11h1v1h-1zM6 -10h1v1h-1zM6 -9h1v1h-1zM2 -8h1v1h-1zM6 -8h1v1h-1zM9 -8h1v1h-1zM2 -7h1v1h-1zM6 -7h1v1h-1zM10 -7h1v1h-1zM1 -6h1v1h-1zM6 -6h1v1h-1zM10 -6h1v1h-1zM1 -5h1v1h-1zM6 -5h1v1h-1zM11 -5h1v1h-1zM1 -4h1v1h-1zM6 -4h1v1h-1zM11 -4h1v1h-1zM0 -3h1v1h-1zM6 -3h1v1h-1zM11 -3h1v1h-1zM0 -2h1v1h-1zM6 -2h1v1h-1zM12 -2h1v1h-1zM6 -1h1v1h-1zM6 0h1v1h-1zM3 1h3v1h-3z"/>
<path id="g15_8ba1" d="M8 -12h1v1h-1zM2 -11h1v1h-1zM8 -11h1v1h-1zM3 -10h1v1h-1zM8 -10h1v1h-1zM8 -9h1v1h-1zM8 -8h1v1h-1zM0 -7h3v1h-3zM5 -7h8v1h-8zM2 -6h1v1h-1zM8 -6h1v1h-1zM2 -5h1v1h-1zM8 -5h1v1h-1zM2 -4h1v1h-1zM8 -4h1v1h-1zM2 -3h1v1h-1zM8 -3h1v1h-1zM2 -2h1v1h-1zM4 -2h1v1h-1zM8 -2h1v1h-1zM2 -1h3v1h-3zM8 -1h1v1h-1zM2 0h1v1h-1zM8 0h1v1h-1zM8 1h1v1h-1z"/>
</defs></svg>
<div class="hl" style="top:39px"></div>
<div class="hl" style="top:90px"></div>
<div class="hl" style="top:136px"></div>
<div class="hl" style="top:174px"></div>
<div class="hl" style="top:212px"></div>
<div class="hl" style="top:250px"></div>
<div class="hl" style="top:289px"></div>
<div class="hl" style="top:334px"></div>
<div class="hl" style="top:380px"></div>
<div class="hl" style="top:418px"></div>
<div class="hl" style="top:463px"></div>
<div class="hl" style="top:510px"></div>
<div class="hl" style="top:557px"></div>
<div class="vl" style="left:1px"></div>
<div class="vl" style="left:58px"></div>
<div class="vl" style="left:182px"></div>
<div class="vl" style="left:335px"></div>
<div class="vl" style="left:431px"></div>
<div class="vl" style="left:598px"></div>
<div class="c t" style="left:163px;top:4px;width:16px;"><svg class="g" width="16" height="20" viewBox="0 -17 16 20"><use href="#g16_8868" x="0"/></svg><span class="s">表</span></div>
<div class="n t" style="left:180px;top:6px;width:8px;">1</div>
<div class="c t" style="left:187px;top:4px;width:16px;"><svg class="g" width="16" height="20" viewBox="0 -17 16 20"><use href="#g16_ff1a" x="0"/></svg><span class="s">：</span></div>
<div class="n t" style="left:203.5px;top:6px;width:32px;">2019</div>
<div class="c t" style="left:235px;top:4px;width:208px;"><svg class="g" width="208" height="20" viewBox="0 -17 208 20"><use href="#g16_5e74" x="0"/><use href="#g16_9a6c" x="16"/><use href="#g16_8fbe" x="32"/><use href="#g16_52a0" x="48"/><use href="#g16_65af" x="64"/><use href="#g16_52a0" x="80"/><use href="#g16_524d" x="96"/><use href="#g16_5341" x="112"/><use href="#g16_5927" x="128"/><use href="#g16_8d38" x="144"/><use href="#g16_6613" x="160"/><use href="#g16_4f19" x="176"/><use href="#g16_4f34" x="192"/></svg><span class="s">年马达加斯加前十大贸易伙伴</span></div>
<div class="c" style="left:15px;top:48px;width:30px;"><svg class="g" width="30" height="18" viewBox="0 -15 30 18"><use href="#g15_6392" x="0"/><use href="#g15_540d" x="15"/></svg><span class="s">排名</span></div>
<div class="c" style="left:65px;top:48px;width:90px;"><svg class="g" width="90" height="18" viewBox="0 -15 90 18"><use href="#g15_56fd" x="0"/><use href="#g15_5bb6" x="15"/><use href="#g15_ff08" x="30"/><use href="#g15_5730" x="45"/><use href="#g15_533a" x="60"/><use href="#g15_ff09" x="75"/></svg><span class="s">国家（地区）</span></div>
<div class="c" style="left:199px;top:48px;width:120px;"><svg class="g" width="120" height="18" viewBox="0 -15 120 18"><use href="#g15_8d38" x="0"/><use href="#g15_6613" x="15"/><use href="#g15_989d" x="30"/><use href="#g15_ff08" x="45"/><use href="#g15_4ebf" x="60"/><use href="#g15_7f8e" x="75"/><use href="#g15_5143" x="90"/><use href="#g15_ff09" x="105"/></svg><span class="s">贸易额（亿美元）</span></div>
<div class="c" style="left:355px;top:48px;width:60px;"><svg class="g" width="60" height="18" viewBox="0 -15 60 18"><use href="#g15_540c" x="0"/><use href="#g15_6bd4" x="15"/><use href="#g15_589e" x="30"/><use href="#g15_957f" x="45"/></svg><span class="s">同比增长</span></div>
<div class="c" style="left:455px;top:48px;width:120px;"><svg class="g" width="120" height="18" viewBox="0 -15 120 18"><use href="#g15_5360" x="0"/><use href="#g15_9a6c" x="15"/><use href="#g15_8d38" x="30"/><use href="#g15_6613" x="45"/><use href="#g15_603b" x="60"/><use href="#g15_989d" x="75"/><use href="#g15_6bd4" x="90"/><use href="#g15_91cd" x="105"/></svg><span class="s">占马贸易总额比重</span></div>
<div class="n" style="left:-10px;top:99px;width:80px;">1</div>
<div class="c" style="left:106px;top:97px;width:30px;"><svg class="g" width="30" height="18" viewBox="0 -15 30 18"><use href="#g15_4e2d" x="0"/><use href="#g15_56fd" x="15"/></svg><span class="s">中国</span></div>
<div class="n" style="left:215px;top:99px;width:80px;">10.51</div>
<div class="n" style="left:343.5px;top:99px;width:80px;">7.5%</div>
<div class="n" style="left:475px;top:99px;width:80px;">16.1%</div>
<div class="n" style="left:-10px;top:141px;width:80px;">2</div>
<div class="c" style="left:106px;top:139px;width:30px;"><svg class="g" width="30" height="18" viewBox="0 -15 30 18"><use href="#g15_6cd5" x="0"/><use href="#g15_56fd" x="15"/></svg><span class="s">法国</span></div>
<div class="n" style="left:215px;top:141px;width:80px;">7.60</div>
<div class="n" style="left:343.5px;top:141px;width:80px;">-10.8%</div>
<div class="n" style="left:475px;top:141px;width:80px;">11.6%</div>
<div class="n" style="left:-10px;top:179px;width:80px;">3</div>
<div class="c" style="left:106px;top:176px;width:30px;"><svg class="g" width="30" height="18" viewBox="0 -15 30 18"><use href="#g15_7f8e" x="0"/><use href="#g15_56fd" x="15"/></svg><span class="s">美国</span></div>
<div class="n" style="left:215px;top:179px;width:80px;">6.14</div>
<div class="n" style="left:343.5px;top:179px;width:80px;">-15.6%</div>
<div class="n" style="left:475px;top:179px;width:80px;">9.4%</div>
<div class="n" style="left:-10px;top:217px;width:80px;">4</div>
<div class="c" style="left:99px;top:215px;width:45px;"><svg class="g" width="45" height="18" viewBox="0 -15 45 18"><use href="#g15_963f" x="0"/><use href="#g15_8054" x="15"/><use href="#g15_914b" x="30"/></svg><span class="s">阿联酋</span></div>
<div class="n" style="left:215px;top:217px;width:80px;">4.81</div>
<div class="n" style="left:343.5px;top:217px;width:80px;">-12.7%</div>
<div class="n" style="left:475px;top:217px;width:80px;">7.4%</div>
<div class="n" style="left:-10px;top:256px;width:80px;">5</div>
<div class="c" style="left:106px;top:253px;width:30px;"><svg class="g" width="30" height="18" viewBox="0 -15 30 18"><use href="#g15_5370" x="0"/><use href="#g15_5ea6" x="15"/></svg><span class="s">印度</span></div>
<div class="n" style="left:215px;top:256px;width:80px;">3.93</div>
<div class="n" style="left:343.5px;top:256px;width:80px;">19.0%</div>
<div class="n" style="left:475px;top:256px;width:80px;">6.0%</div>
<div class="n" style="left:-10px;top:298px;width:80px;">6</div>
<div class="c" style="left:106px;top:295px;width:30px;"><svg class="g" width="30" height="18" viewBox="0 -15 30 18"><use href="#g15_65e5" x="0"/><use href="#g15_672c" x="15"/></svg><span class="s">日本</span></div>
<div class="n" style="left:215px;top:298px;width:80px;">2.72</div>
<div class="n" style="left:343.5px;top:298px;width:80px;">0.9%</div>
<div class="n" style="left:475px;top:298px;width:80px;">4.2%</div>
<div class="n" style="left:-10px;top:343px;width:80px;">7</div>
<div class="c" style="left:106px;top:340px;width:30px;"><svg class="g" width="30" height="18" viewBox="0 -15 30 18"><use href="#g15_5357" x="0"/><use href="#g15_975e" x="15"/></svg><span class="s">南非</span></div>
<div class="n" style="left:215px;top:343px;width:80px;">2.63</div>
<div class="n" style="left:343.5px;top:343px;width:80px;">-19.1%</div>
<div class="n" style="left:475px;top:343px;width:80px;">4.0%</div>
<div class="n" style="left:-10px;top:385px;width:80px;">8</div>
<div class="c" style="left:106px;top:383px;width:30px;"><svg class="g" width="30" height="18" viewBox="0 -15 30 18"><use href="#g15_5fb7" x="0"/><use href="#g15_56fd" x="15"/></svg><span class="s">德国</span></div>
<div class="n" style="left:215px;top:385px;width:80px;">2.43</div>
<div class="n" style="left:343.5px;top:385px;width:80px;">-24.9%</div>
<div class="n" style="left:475px;top:385px;width:80px;">3.7%</div>
<div class="n" style="left:-10px;top:427px;width:80px;">9</div>
<div class="c" style="left:106px;top:424px;width:30px;"><svg class="g" width="30" height="18" viewBox="0 -15 30 18"><use href="#g15_8377" x="0"/><use href="#g15_5170" x="15"/></svg><span class="s">荷兰</span></div>
<div class="n" style="left:213px;top:427px;width:80px;">1.67</div>
<div class="n" style="left:343.5px;top:427px;width:80px;">-6.0%</div>
<div class="n" style="left:475px;top:427px;width:80px;">2.6%</div>
<div class="n" style="left:-10px;top:473px;width:80px;">10</div>
<div class="c" style="left:106px;top:470px;width:30px;"><svg class="g" width="30" height="18" viewBox="0 -15 30 18"><use href="#g15_97e9" x="0"/><use href="#g15_56fd" x="15"/></svg><span class="s">韩国</span></div>
<div class="n" style="left:215px;top:473px;width:80px;">1.62</div>
<div class="n" style="left:343.5px;top:473px;width:80px;">30.9%</div>
<div class="n" style="left:475px;top:473px;width:80px;">2.5%</div>
<div class="c" style="left:106px;top:517px;width:30px;"><svg class="g" width="30" height="18" viewBox="0 -15 30 18"><use href="#g15_5c0f" x="0"/><use href="#g15_8ba1" x="15"/></svg><span class="s">小计</span></div>
<div class="n" style="left:219.6px;top:519px;width:80px;letter-spacing:0.35px;">44.06</div>
<div class="n" style="left:343.5px;top:519px;width:80px;">-6.6%</div>
<div class="n" style="left:475px;top:519px;width:80px;">67.5%</div>
</body>
</html>
